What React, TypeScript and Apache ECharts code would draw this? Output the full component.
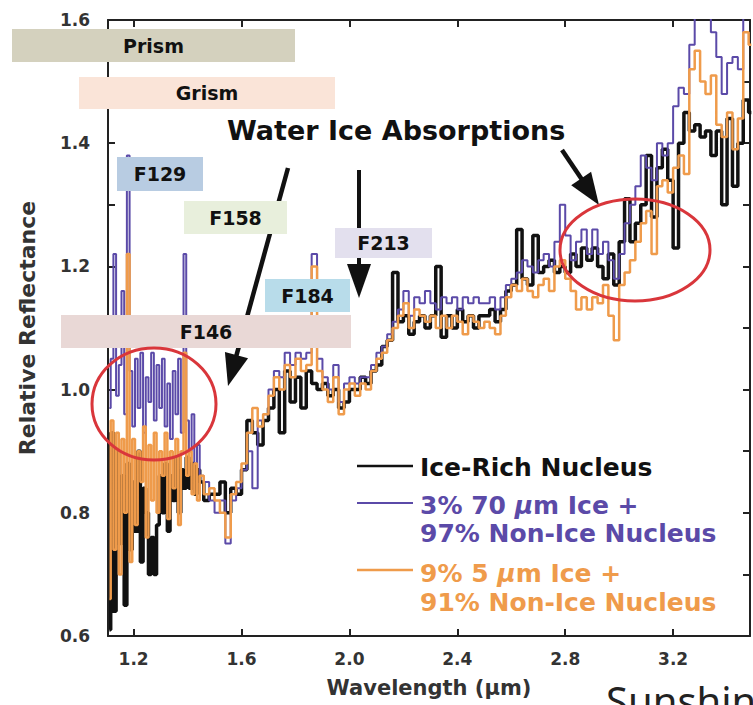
import React, { useEffect, useRef } from "react";
import * as echarts from "echarts";

// Wavelength grid (µm)
const wavelengths = [
  1.11, 1.12, 1.13, 1.14, 1.15, 1.16, 1.17, 1.18, 1.19, 1.2,
  1.21, 1.22, 1.23, 1.24, 1.25, 1.26, 1.27, 1.28, 1.29, 1.3,
  1.31, 1.32, 1.33, 1.34, 1.35, 1.36, 1.37, 1.38, 1.39, 1.4,
  1.41, 1.42, 1.43, 1.44, 1.45,
  1.47, 1.49,
  1.51, 1.53, 1.55, 1.57, 1.59, 1.61, 1.63, 1.65, 1.67, 1.69,
  1.71, 1.73, 1.75, 1.77, 1.79, 1.81, 1.83, 1.85, 1.87, 1.89,
  1.91, 1.93, 1.95, 1.97, 1.99, 2.01, 2.03, 2.05, 2.07, 2.09,
  2.11, 2.13, 2.15, 2.17, 2.19, 2.21, 2.23, 2.25, 2.27, 2.29,
  2.31, 2.33, 2.35, 2.37, 2.39, 2.41, 2.43, 2.45, 2.47, 2.49,
  2.51, 2.53, 2.55, 2.57, 2.59, 2.61, 2.63, 2.65, 2.67, 2.69,
  2.71, 2.73, 2.75, 2.77, 2.79, 2.81, 2.83, 2.85, 2.87, 2.89,
  2.91, 2.93, 2.95, 2.97, 2.99, 3.01, 3.03, 3.05, 3.07, 3.09,
  3.11, 3.13, 3.15, 3.17, 3.19, 3.21, 3.23, 3.25, 3.27, 3.29,
  3.31, 3.33, 3.35, 3.37, 3.39, 3.41, 3.43, 3.45, 3.47, 3.49,
];

const iceRichNucleus = [
  0.61, 0.93, 0.64, 0.9, 0.75, 0.86, 0.65, 0.88, 0.74, 0.85,
  0.77, 0.9, 0.72, 0.84, 0.8, 0.7, 0.76, 0.7, 0.78, 0.86,
  0.8, 0.88, 0.77, 0.86, 0.82, 0.89, 0.8, 0.87, 0.84, 0.89,
  0.84, 0.88, 0.83, 0.87, 0.85,
  0.82, 0.83,
  0.83, 0.85, 0.8, 0.84, 0.83, 0.87, 0.95, 0.93, 0.91, 0.95,
  0.97, 1.0, 0.93, 1.03, 0.98, 1.02, 0.97, 1.03, 1.01, 1.0,
  1.01, 0.99, 1.0, 0.97, 0.98, 1.0, 1.0, 1.02, 1.01, 1.03,
  1.04, 1.07, 1.08, 1.19, 1.11, 1.12, 1.09, 1.11, 1.12, 1.1,
  1.12, 1.2, 1.085, 1.12, 1.1, 1.13, 1.11, 1.12, 1.1, 1.12,
  1.12, 1.13, 1.11, 1.13, 1.16, 1.17, 1.26, 1.18, 1.17, 1.25,
  1.19, 1.2, 1.21, 1.19, 1.2, 1.19, 1.22, 1.2, 1.23, 1.21,
  1.23, 1.2, 1.18, 1.22, 1.17, 1.24, 1.31, 1.24, 1.27, 1.3,
  1.38, 1.28, 1.36, 1.39, 1.34, 1.23, 1.4, 1.45, 1.42, 1.43,
  1.41, 1.42, 1.38, 1.42, 1.3, 1.44, 1.33, 1.4, 1.47, 1.45,
];

const ice70um = [
  0.97, 1.05, 1.22, 0.99, 1.04, 1.16, 0.96, 1.38, 1.03, 0.94,
  1.05, 0.97, 1.06, 0.93, 1.02, 0.98, 1.06, 0.95, 1.04, 0.97,
  1.05, 0.94, 1.01, 0.92, 1.03, 0.96, 1.05, 0.93, 1.22, 0.95,
  0.9, 0.96, 0.88, 0.91, 0.86,
  0.85, 0.82,
  0.8, 0.82, 0.75, 0.82, 0.84, 0.87, 0.9, 0.84, 0.95, 0.96,
  1.0, 1.03, 1.02, 1.06, 1.04, 1.06, 1.05, 1.06, 1.22, 1.05,
  1.02, 1.0, 1.04, 0.98, 1.01, 1.02, 1.01, 1.02, 1.02, 1.04,
  1.06, 1.07, 1.09, 1.11, 1.13, 1.16, 1.12, 1.15, 1.14, 1.16,
  1.14, 1.13, 1.15, 1.14, 1.15, 1.13, 1.15, 1.14, 1.15, 1.14,
  1.14, 1.15, 1.13, 1.15, 1.17, 1.18, 1.19, 1.21, 1.2, 1.19,
  1.21, 1.22, 1.2, 1.24, 1.3, 1.25, 1.21, 1.24, 1.26, 1.22,
  1.26, 1.22, 1.24, 1.21, 1.18, 1.22, 1.27, 1.3, 1.33, 1.38,
  1.36, 1.34, 1.4, 1.38, 1.4, 1.46, 1.49, 1.48, 1.56, 1.63,
  1.65, 1.62, 1.58, 1.54, 1.48, 1.53, 1.54, 1.52, 1.65, 1.65,
];

const ice5um = [
  0.66, 0.95, 0.74, 0.93, 0.7, 0.92, 0.8, 1.22, 0.72, 0.92,
  0.78, 0.9, 0.85, 0.94, 0.76, 0.91, 0.82, 0.93, 0.8, 0.9,
  0.86, 0.93, 0.79, 0.9, 0.84, 0.92, 0.78, 0.9, 1.06, 0.86,
  0.9, 0.83, 0.88, 0.82, 0.86,
  0.83, 0.84,
  0.82, 0.8, 0.76, 0.83, 0.85, 0.88, 0.93, 0.97, 0.94, 0.96,
  0.99, 1.02, 1.0, 1.04, 1.02, 1.05, 1.03, 1.04, 1.2, 1.03,
  1.0, 0.98, 1.02, 0.96, 1.0, 1.01, 0.99, 1.01, 1.0, 1.03,
  1.05, 1.06, 1.08, 1.1, 1.12, 1.14, 1.1, 1.13, 1.12, 1.11,
  1.12, 1.1, 1.12, 1.1, 1.12, 1.11, 1.09, 1.12, 1.11, 1.1,
  1.11, 1.1, 1.09, 1.12, 1.15, 1.17, 1.16, 1.18, 1.16, 1.15,
  1.17, 1.18, 1.16, 1.2, 1.21, 1.18, 1.16, 1.13, 1.15, 1.13,
  1.15, 1.14, 1.17, 1.12, 1.08, 1.17, 1.19, 1.21, 1.24, 1.27,
  1.29, 1.22, 1.33, 1.34, 1.32, 1.36, 1.38, 1.35, 1.52, 1.55,
  1.5, 1.48, 1.51, 1.43, 1.41, 1.45, 1.39, 1.44, 1.58, 1.56,
];

const xTickValues = [1.2, 1.6, 2.0, 2.4, 2.8, 3.2];
const yLabelValues = [0.6, 0.8, 1.0, 1.2, 1.4, 1.6];

const seriesNames = [
  "Ice-Rich Nucleus",
  "3% 70 μm Ice + 97% Non-Ice Nucleus",
  "9% 5 μm Ice + 91% Non-Ice Nucleus",
];

const BLACK = "#111111";
const PURPLE = "#5b4aa8";
const ORANGE = "#ef9b4b";
const RED = "#d9363b";
const FONT = '"DejaVu Sans", sans-serif';

function arrow(x1: number, y1: number, x2: number, y2: number, headLen: number, halfW: number, width: number) {
  const dx = x2 - x1;
  const dy = y2 - y1;
  const len = Math.sqrt(dx * dx + dy * dy);
  const ux = dx / len;
  const uy = dy / len;
  const bx = x2 - ux * headLen;
  const by = y2 - uy * headLen;
  const px = -uy;
  const py = ux;
  return [
    {
      type: "line",
      z: 5,
      shape: { x1, y1, x2: bx + ux * 2, y2: by + uy * 2 },
      style: { stroke: BLACK, lineWidth: width },
    },
    {
      type: "polygon",
      z: 5,
      shape: {
        points: [
          [x2, y2],
          [bx + px * halfW, by + py * halfW],
          [bx - px * halfW, by - py * halfW],
        ],
      },
      style: { fill: BLACK },
    },
  ];
}

function box(x: number, y: number, w: number, h: number, color: string, label: string) {
  return [
    { type: "rect", z: 10, shape: { x, y, width: w, height: h }, style: { fill: color } },
    {
      type: "text",
      z: 11,
      x: x + w / 2,
      y: y + h / 2,
      style: {
        text: label,
        fill: BLACK,
        fontFamily: FONT,
        fontWeight: "bold",
        fontSize: 19,
        align: "center",
        verticalAlign: "middle",
      },
    },
  ];
}

function legendText(x: number, y: number, text: string, color: string) {
  return {
    type: "text",
    z: 20,
    x,
    y,
    style: {
      text,
      rich: {
        n: { fill: color, fontFamily: FONT, fontWeight: "bold", fontSize: 25 },
        i: { fill: color, fontFamily: FONT, fontWeight: "bold", fontStyle: "italic", fontSize: 25 },
      },
      align: "left",
      verticalAlign: "middle",
    },
  };
}

export default function App() {
  const ref = useRef<HTMLDivElement>(null);
  useEffect(() => {
    if (!ref.current) return;
    const chart = echarts.init(ref.current, undefined, { renderer: "svg" });

    const mk = (vals: number[]) => wavelengths.map((w, i) => [w, vals[i]]);

    const axisLineStyle = { color: "#222", width: 2 };
    const labelStyle = {
      fontFamily: FONT,
      fontWeight: "bold" as const,
      fontSize: 17,
      color: "#333",
    };

    const graphic: any[] = [
      ...arrow(288, 168, 228, 386, 32, 12, 4.5),
      ...arrow(359, 170, 359, 298, 34, 12, 4),
      ...arrow(562, 150, 599, 205, 32, 12, 4.5),
      ...box(12, 29, 283, 33, "#d4d1be", "Prism"),
      ...box(79, 77, 256, 32, "#fae4d8", "Grism"),
      ...box(117, 157, 86, 34, "#b8cce2", "F129"),
      ...box(184, 201, 103, 33, "#e8efdc", "F158"),
      ...box(335, 228, 97, 30, "#e3e0ee", "F213"),
      ...box(265, 279, 85, 33, "#b8dcea", "F184"),
      ...box(61, 315, 290, 33, "#e9d8d6", "F146"),
      {
        type: "text",
        z: 15,
        x: 227,
        y: 130,
        style: {
          text: "Water Ice Absorptions",
          fill: BLACK,
          fontFamily: FONT,
          fontWeight: "bold",
          fontSize: 27,
          align: "left",
          verticalAlign: "middle",
        },
      },
      {
        type: "ellipse",
        z: 14,
        shape: { cx: 154, cy: 404, rx: 62, ry: 56 },
        style: { fill: "none", stroke: RED, lineWidth: 3 },
      },
      {
        type: "ellipse",
        z: 14,
        shape: { cx: 635, cy: 250, rx: 75, ry: 51 },
        style: { fill: "none", stroke: RED, lineWidth: 3 },
      },
      { type: "line", z: 20, shape: { x1: 357, y1: 466, x2: 413, y2: 466 }, style: { stroke: BLACK, lineWidth: 2.5 } },
      { type: "line", z: 20, shape: { x1: 357, y1: 503, x2: 413, y2: 503 }, style: { stroke: PURPLE, lineWidth: 2 } },
      { type: "line", z: 20, shape: { x1: 357, y1: 570, x2: 413, y2: 570 }, style: { stroke: ORANGE, lineWidth: 2.5 } },
      legendText(420, 467, "{n|Ice-Rich Nucleus}", BLACK),
      legendText(420, 505, "{n|3% 70 }{i|μ}{n|m Ice +}", PURPLE),
      legendText(420, 533, "{n|97% Non-Ice Nucleus}", PURPLE),
      legendText(420, 573, "{n|9% 5 }{i|μ}{n|m Ice +}", ORANGE),
      legendText(420, 602, "{n|91% Non-Ice Nucleus}", ORANGE),
      {
        type: "text",
        z: 20,
        x: 606,
        y: 700,
        style: {
          text: "Sunshine",
          fill: "#222",
          fontFamily: '"Noto Sans", sans-serif',
          fontSize: 40,
          align: "left",
          verticalAlign: "middle",
        },
      },
    ];

    chart.setOption({
      animation: false,
      backgroundColor: "#ffffff",
      grid: { left: 108, right: 3, top: 20, bottom: 69, containLabel: false },
      xAxis: [
        {
          type: "value",
          min: 1.105,
          max: 3.485,
          position: "bottom",
          axisLine: { onZero: false, lineStyle: axisLineStyle },
          axisTick: { inside: true, length: 7, customValues: xTickValues, lineStyle: axisLineStyle },
          axisLabel: {
            customValues: xTickValues,
            formatter: (v: number) => v.toFixed(1),
            margin: 14,
            ...labelStyle,
          },
          splitLine: { show: false },
          name: "Wavelength (µm)",
          nameLocation: "middle",
          nameGap: 41,
          nameTextStyle: { fontFamily: FONT, fontWeight: "bold", fontSize: 21, color: "#333" },
        },
        {
          type: "value",
          min: 1.105,
          max: 3.485,
          position: "top",
          axisLine: { onZero: false, lineStyle: axisLineStyle },
          axisTick: { inside: true, length: 7, customValues: xTickValues, lineStyle: axisLineStyle },
          axisLabel: { show: false },
          splitLine: { show: false },
        },
      ],
      yAxis: [
        {
          type: "value",
          min: 0.6,
          max: 1.6,
          interval: 0.1,
          position: "left",
          axisLine: { onZero: false, lineStyle: axisLineStyle },
          axisTick: { inside: true, length: 7, lineStyle: axisLineStyle },
          axisLabel: {
            customValues: yLabelValues,
            formatter: (v: number) => v.toFixed(1),
            margin: 18,
            ...labelStyle,
          },
          splitLine: { show: false },
          name: "Relative Reflectance",
          nameLocation: "middle",
          nameGap: 70,
          nameRotate: 90,
          nameTextStyle: { fontFamily: FONT, fontWeight: "bold", fontSize: 22, color: "#333" },
        },
        {
          type: "value",
          min: 0.6,
          max: 1.6,
          interval: 0.1,
          position: "right",
          axisLine: { onZero: false, lineStyle: axisLineStyle },
          axisTick: { inside: true, length: 7, lineStyle: axisLineStyle },
          axisLabel: { show: false },
          splitLine: { show: false },
        },
      ],
      series: [
        {
          name: seriesNames[0],
          type: "line",
          step: "middle",
          showSymbol: false,
          symbol: "none",
          data: mk(iceRichNucleus),
          lineStyle: { color: BLACK, width: 3.5 },
          itemStyle: { color: BLACK },
          z: 2,
        },
        {
          name: seriesNames[1],
          type: "line",
          step: "middle",
          showSymbol: false,
          symbol: "none",
          data: mk(ice70um),
          lineStyle: { color: PURPLE, width: 2 },
          itemStyle: { color: PURPLE },
          z: 3,
        },
        {
          name: seriesNames[2],
          type: "line",
          step: "middle",
          showSymbol: false,
          symbol: "none",
          data: mk(ice5um),
          lineStyle: { color: ORANGE, width: 2.5 },
          itemStyle: { color: ORANGE },
          z: 4,
        },
      ],
      graphic,
    });
    return () => chart.dispose();
  }, []);
  return (
    <div
      ref={ref}
      style={{ position: "absolute", left: 0, top: 0, width: 753, height: 705 }}
    />
  );
}
